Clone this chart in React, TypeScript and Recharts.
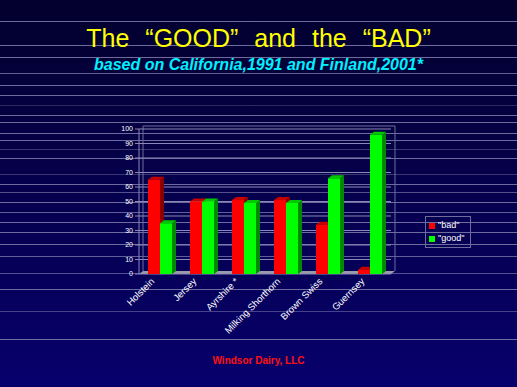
import React from "react";
import { BarChart, Bar, XAxis, YAxis, CartesianGrid, Legend } from "recharts";

const categories = ["Holstein", "Jersey", "Ayrshire *", "Milking Shorthorn", "Brown Swiss", "Guernsey"];
const bad = [65, 50, 51, 51, 34, 3];
const good = [35, 50, 49, 49, 66, 96];
const yTicks = [0, 10, 20, 30, 40, 50, 60, 70, 80, 90, 100];

const data = categories.map((name, i) => ({ name, bad: bad[i], good: good[i] }));

// slide decoration
const W = 517;
const H = 387;
const bgLines = [
  [21, 0.8], [45, 0.8], [57, 0.8], [73, 0.7], [85, 0.8], [95, 0.8], [105, 0.3],
  [115, 0.8], [122, 0.8], [133, 0.8], [140, 0.8], [149, 0.4], [158, 0.8], [174, 0.4],
  [184, 0.8], [192, 0.6], [202, 0.8], [212, 0.7], [222, 0.8], [232, 0.8], [244, 0.8],
  [256, 0.7], [273, 0.6], [289, 0.8], [311, 0.5], [339, 0.8],
];

// plot box
const PL = 139;
const PT = 129;
const PR = 391;
const PB = 274;
const DX = 4;
const DY = 3;

const font = "Arial, 'Liberation Sans', sans-serif";

function Bar3D(props: any) {
  const { x, y, width, height, fill, top, side } = props;
  if (height == null || width == null) return null;
  return (
    <g>
      <polygon
        points={`${x + width},${y} ${x + width + DX},${y - DY} ${x + width + DX},${y + height - DY} ${x + width},${y + height}`}
        fill={side}
      />
      <polygon
        points={`${x},${y} ${x + DX},${y - DY} ${x + width + DX},${y - DY} ${x + width},${y}`}
        fill={top}
      />
      <rect x={x} y={y} width={width} height={height} fill={fill} />
    </g>
  );
}

function XTick(props: any) {
  const { x, y, payload } = props;
  return (
    <text
      x={x - 5}
      y={y}
      transform={`rotate(-45, ${x - 5}, ${y})`}
      textAnchor="end"
      fill="#ffffff"
      fontSize={9.5}
      fontFamily={font}
    >
      {payload.value}
    </text>
  );
}

function LegendBox(props: any) {
  const { payload } = props;
  return (
    <div
      style={{
        border: "1px solid #6e6c9a",
        padding: "2px 2px 2px 3px",
        fontFamily: font,
        fontSize: 9,
        color: "#fff",
        lineHeight: "13px",
      }}
    >
      {(payload || []).map((p: any) => (
        <div key={p.value} style={{ display: "flex", alignItems: "center" }}>
          <span style={{ width: 6, height: 6, background: p.color, marginRight: 3, display: "inline-block" }} />
          {p.value}
        </div>
      ))}
    </div>
  );
}

export default function App() {
  return (
    <div
      style={{
        position: "absolute",
        left: 0,
        top: 0,
        width: W,
        height: H,
        overflow: "hidden",
        background: "linear-gradient(#03002e, #07006c)",
        fontFamily: font,
      }}
    >
      <svg width={W} height={H} style={{ position: "absolute", left: 0, top: 0 }}>
        {bgLines.map(([y, o]) => (
          <line key={y} x1={0} x2={W} y1={y + 0.5} y2={y + 0.5} stroke="#8886b4" strokeOpacity={o} />
        ))}
        {/* back wall */}
        <polyline
          points={`${PL + DX},${PB - DY} ${PL + DX},${PT - DY} ${PR + DX},${PT - DY} ${PR + DX},${PB - DY}`}
          fill="none"
          stroke="#6e6c9a"
        />
        {/* floor */}
        <polygon
          points={`${PL},${PB} ${PR},${PB} ${PR + DX},${PB - DY} ${PL + DX},${PB - DY}`}
          fill="#9a9aa8"
        />
      </svg>

      <div
        style={{
          position: "absolute",
          top: 24,
          width: W,
          textAlign: "center",
          color: "#ffff00",
          fontSize: 25,
          wordSpacing: 9,
          lineHeight: "28px",
        }}
      >
        The “GOOD” and the “BAD”
      </div>
      <div
        style={{
          position: "absolute",
          top: 56,
          width: W,
          textAlign: "center",
          color: "#00f0ff",
          fontSize: 16,
          fontWeight: "bold",
          fontStyle: "italic",
          lineHeight: "18px",
        }}
      >
        based on California,1991 and Finland,2001*
      </div>

      <BarChart
        width={W}
        height={H}
        data={data}
        margin={{ top: PT, right: W - PR, bottom: H - PB - 60, left: PL - 30 }}
        barSize={12}
        barGap={0}
        style={{ position: "absolute", left: 0, top: 0 }}
      >
        <CartesianGrid vertical={false} stroke="#8a88b6" />
        <XAxis
          dataKey="name"
          height={60}
          interval={0}
          axisLine={false}
          tickLine={false}
          tick={<XTick />}
        />
        <YAxis
          width={30}
          domain={[0, 100]}
          ticks={yTicks}
          interval={0}
          tick={{ fill: "#ffffff", fontSize: 7, fontFamily: font }}
          axisLine={{ stroke: "#8a88b6" }}
          tickLine={{ stroke: "#8a88b6" }}
          tickSize={4}
        />
        <Legend
          layout="vertical"
          align="center"
          verticalAlign="middle"
          content={<LegendBox />}
          wrapperStyle={{ left: 425, top: 216, width: 46 }}
        />
        <Bar
          dataKey="bad"
          name={'"bad"'}
          fill="#ff0000"
          shape={<Bar3D top="#c80000" side="#8a0000" />}
          isAnimationActive={false}
        />
        <Bar
          dataKey="good"
          name={'"good"'}
          fill="#00ff00"
          shape={<Bar3D top="#00c800" side="#008a00" />}
          isAnimationActive={false}
        />
      </BarChart>

      <div
        style={{
          position: "absolute",
          top: 355,
          width: W,
          textAlign: "center",
          color: "#ff1010",
          fontSize: 10,
          fontWeight: "bold",
        }}
      >
        Windsor Dairy, LLC
      </div>
    </div>
  );
}
